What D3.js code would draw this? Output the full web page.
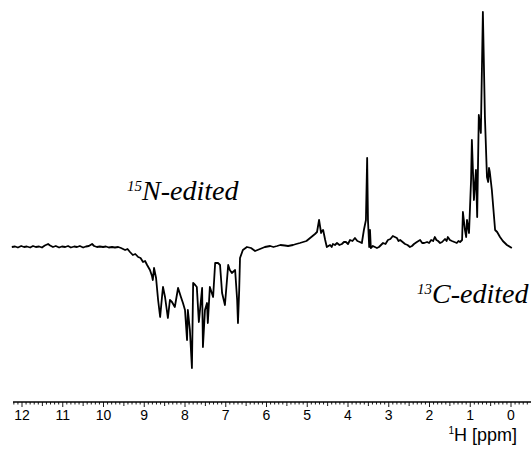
<!DOCTYPE html>
<html><head><meta charset="utf-8">
<script src="https://cdn.jsdelivr.net/npm/d3@7"></script>
<style>
html,body{margin:0;padding:0;background:#fff;}
svg{display:block;}
</style></head>
<body>
<svg id="c" width="531" height="449"></svg>
<script>
// Chemical shift (ppm) and intensity (arbitrary units, baseline = 0)
const ppm = [12.25,12.17,12.10,12.02,11.95,11.88,11.80,11.73,11.66,11.58,11.51,11.44,11.36,11.31,11.24,11.17,11.09,11.02,10.94,10.87,10.80,10.72,10.65,10.58,10.50,10.43,10.36,10.28,10.23,10.16,10.09,10.01,9.94,9.87,9.79,9.72,9.64,9.57,9.47,9.41,9.35,9.28,9.22,9.15,9.09,9.03,8.98,8.93,8.86,8.81,8.79,8.76,8.71,8.66,8.61,8.56,8.54,8.49,8.42,8.37,8.32,8.25,8.17,8.10,8.05,8.00,7.95,7.93,7.88,7.83,7.80,7.75,7.71,7.66,7.58,7.56,7.51,7.46,7.44,7.39,7.31,7.26,7.19,7.14,7.09,7.02,6.94,6.90,6.85,6.77,6.72,6.70,6.67,6.65,6.58,6.48,6.38,6.28,6.16,6.04,5.91,5.83,5.74,5.66,5.55,5.47,5.35,5.27,5.18,5.10,5.02,4.93,4.81,4.76,4.71,4.66,4.64,4.61,4.56,4.52,4.48,4.44,4.40,4.37,4.32,4.27,4.21,4.15,4.10,4.05,4.00,3.95,3.89,3.83,3.77,3.71,3.66,3.61,3.56,3.53,3.51,3.48,3.46,3.44,3.39,3.34,3.29,3.24,3.19,3.14,3.08,3.02,2.96,2.90,2.85,2.80,2.76,2.72,2.66,2.60,2.54,2.48,2.43,2.38,2.31,2.23,2.18,2.13,2.06,2.01,1.96,1.91,1.87,1.83,1.79,1.74,1.69,1.62,1.58,1.55,1.50,1.45,1.39,1.33,1.29,1.25,1.20,1.18,1.13,1.10,1.08,1.03,0.98,0.96,0.91,0.86,0.83,0.79,0.74,0.69,0.64,0.59,0.56,0.54,0.52,0.47,0.39,0.34,0.27,0.20,0.10,-0.02];
const intensity = [0,0.5,-0.5,1,0,0.5,-0.5,1,0,0.5,-0.5,1.5,3,1.5,0,1,-0.5,0.5,0,1,-0.5,0.5,0,1,-0.5,0.5,1,3,1,0,0.5,0,0.5,-0.5,0,-0.5,0,-1,-3,-2,-5,-8,-7,-10,-11,-15,-14,-18,-23,-29,-33,-21,-31,-53,-70,-48,-40,-50,-71,-53,-55,-60,-41,-50,-56,-63,-93,-63,-83,-121,-36,-38,-40,-75,-41,-100,-63,-56,-76,-40,-50,-16,-16,-18,-46,-58,-18,-23,-26,-23,-53,-76,-43,-11,-3,0,-1,-4,-2,0,1,0,1,2,1.5,1,2,3,4,5,6,9,13,15,27,14,16,17,7,0,1,2,0,3,2,4,2,3,5,5,3,7,6,9,6,5,4,17,27,89,27,0,17,-1,1,0,-1,0,2,4,3,7,8,11,10,9,6,7,5,3,2,0,1,3,5,7,4,4,5,4,7,6,10,7,6,4,5,8,6,10,7,6,5,4,6,5,7,35,17,10,27,14,67,107,47,77,30,132,114,235,130,70,65,79,75,57,17,15,10,6,2,-1];
const tickLabels = ["12","11","10","9","8","7","6","5","4","3","2","1","0"];
const tickValues = [12,11,10,9,8,7,6,5,4,3,2,1,0];
const labelN = {sup:"15", main:"N-edited"};
const labelC = {sup:"13", main:"C-edited"};
const axisTitle = {sup:"1", main:"H [ppm]"};

const svg = d3.select("#c");
const x = d3.scaleLinear().domain([12,0]).range([22,511]);
const y = d3.scaleLinear().domain([0,235]).range([247,12]);

const data = ppm.map((p,i)=>({p, v:intensity[i]}));
const line = d3.line().x(d=>x(d.p)).y(d=>y(d.v));
svg.append("path").datum(data).attr("d",line)
  .attr("fill","none").attr("stroke","#000").attr("stroke-width",1.8)
  .attr("stroke-linejoin","round");

// axis
const axY = 402;
const g = svg.append("g").attr("transform",`translate(0,${axY})`);
g.append("line").attr("x1",x(12.22)).attr("x2",531).attr("y1",0).attr("y2",0)
  .attr("stroke","#000").attr("stroke-width",1.6);
const minor = d3.range(-4,123).map(i=>i/10);
g.selectAll("line.mt").data(minor).enter().append("line")
  .attr("x1",d=>x(d)).attr("x2",d=>x(d)).attr("y1",0)
  .attr("y2",d=>{const k=Math.round(d*10); return k%10===0?5:(k%5===0?4:2.5);})
  .attr("stroke","#000").attr("stroke-width",0.9);
g.selectAll("text.tl").data(tickValues).enter().append("text")
  .attr("x",d=>x(d)).attr("y",18).attr("text-anchor","middle")
  .attr("font-family","Liberation Sans, Arial, sans-serif").attr("font-size",14)
  .text((d,i)=>tickLabels[i]);

// axis title
const at = svg.append("text").attr("x",517).attr("y",441).attr("text-anchor","end")
  .attr("font-family","Liberation Sans, Arial, sans-serif").attr("font-size",18);
at.append("tspan").attr("font-size",10).attr("dy",-7).text(axisTitle.sup);
at.append("tspan").attr("dy",7).text(axisTitle.main);

function label(obj, xx, yy){
  const t = svg.append("text").attr("x",xx).attr("y",yy)
    .attr("font-family","Liberation Serif, Times New Roman, serif")
    .attr("font-style","italic").attr("font-size",28);
  t.append("tspan").attr("font-size",15).attr("dy",-9).text(obj.sup);
  t.append("tspan").attr("dy",9).text(obj.main);
}
label(labelN,127,200);
label(labelC,417,303);
</script>
</body></html>
